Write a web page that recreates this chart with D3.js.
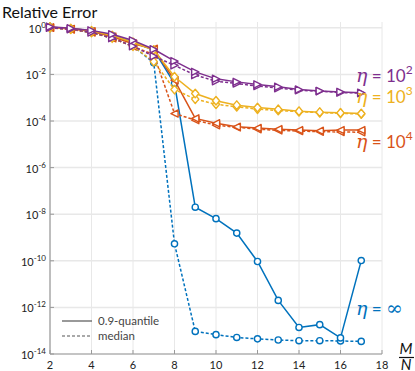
<!DOCTYPE html>
<html>
<head>
<meta charset="utf-8">
<script src="https://cdn.jsdelivr.net/npm/d3@7"></script>
<style>
  body { margin: 0; background: #fff; }
  svg { display: block; font-family: Lato, "Open Sans", sans-serif; }
</style>
</head>
<body>
<svg id="chart" width="415" height="371"></svg>
<script>
// M/N values
const mn = [2, 3, 4, 5, 6, 7, 8, 9, 10, 11, 12, 13, 14, 15, 16, 17];

// log10 of relative error
const infQ90 = [0.03, -0.03, -0.13, -0.33, -0.62, -0.95, -2.39, -7.7, -8.19, -8.81, -10.03, -11.7, -12.86, -12.74, -13.31, -9.99];
const infMed = [0.0, -0.06, -0.2, -0.44, -0.79, -1.5, -9.27, -13.03, -13.17, -13.29, -13.35, -13.4, -13.43, -13.43, -13.44, -13.46];
const e4Q90 = [0.02, -0.05, -0.15, -0.38, -0.68, -0.9, -2.25, -3.89, -4.1, -4.25, -4.3, -4.35, -4.39, -4.42, -4.39, -4.39];
const e4Med = [0.0, -0.07, -0.2, -0.45, -0.8, -1.15, -3.68, -3.96, -4.18, -4.27, -4.35, -4.4, -4.43, -4.46, -4.47, -4.48];
const e3Q90 = [0.03, -0.03, -0.13, -0.33, -0.62, -0.95, -2.1, -2.82, -3.13, -3.32, -3.42, -3.5, -3.58, -3.62, -3.65, -3.68];
const e3Med = [0.0, -0.06, -0.2, -0.44, -0.79, -1.45, -2.65, -3.06, -3.28, -3.39, -3.49, -3.55, -3.6, -3.64, -3.67, -3.7];
const e2Q90 = [0.05, -0.02, -0.11, -0.28, -0.54, -0.92, -1.43, -1.89, -2.19, -2.32, -2.43, -2.53, -2.65, -2.71, -2.75, -2.79];
const e2Med = [0.0, -0.06, -0.2, -0.44, -0.79, -1.22, -1.61, -2.03, -2.29, -2.39, -2.5, -2.59, -2.68, -2.72, -2.78, -2.8];

const xTicks = [2, 4, 6, 8, 10, 12, 14, 16, 18];
const yTickExp = [0, -2, -4, -6, -8, -10, -12, -14];

const series = [
  { name: 'inf', color: '#0072BD', marker: 'circle', q90: infQ90, med: infMed, label: '∞', ly: 315 },
  { name: 'e4', color: '#D95319', marker: 'left', q90: e4Q90, med: e4Med, label: '4', ly: 148 },
  { name: 'e3', color: '#EDB120', marker: 'diamond', q90: e3Q90, med: e3Med, label: '3', ly: 103 },
  { name: 'e2', color: '#7E2F8E', marker: 'right', q90: e2Q90, med: e2Med, label: '2', ly: 82 }
];

const svg = d3.select('#chart');
const plotLeft = 50, plotRight = 382, plotTop = 22, plotBottom = 354;

const xScale = d3.scaleLinear().domain([2, 18]).range([plotLeft, plotRight]);
const yScale = d3.scaleLog().domain([1e-14, Math.pow(10, 0.25)]).range([plotBottom, plotTop]);

// grid
svg.append('g').selectAll('line').data(xTicks).join('line')
  .attr('x1', d => xScale(d)).attr('x2', d => xScale(d))
  .attr('y1', plotTop).attr('y2', plotBottom)
  .attr('stroke', '#e8e8e8').attr('stroke-width', 1);
svg.append('g').selectAll('line').data(yTickExp).join('line')
  .attr('x1', plotLeft).attr('x2', plotRight)
  .attr('y1', d => yScale(Math.pow(10, d))).attr('y2', d => yScale(Math.pow(10, d)))
  .attr('stroke', '#e8e8e8').attr('stroke-width', 1.5);

// axes lines + inward ticks
svg.append('line').attr('x1', plotLeft).attr('x2', plotLeft).attr('y1', plotTop).attr('y2', plotBottom)
  .attr('stroke', '#999').attr('stroke-width', 1.2);
svg.append('line').attr('x1', plotLeft).attr('x2', plotRight).attr('y1', plotBottom).attr('y2', plotBottom)
  .attr('stroke', '#999').attr('stroke-width', 1.2);
svg.append('g').selectAll('line').data(xTicks).join('line')
  .attr('x1', d => xScale(d)).attr('x2', d => xScale(d))
  .attr('y1', plotBottom).attr('y2', plotBottom - 4)
  .attr('stroke', '#999');
svg.append('g').selectAll('line').data(yTickExp).join('line')
  .attr('x1', plotLeft).attr('x2', plotLeft + 4)
  .attr('y1', d => yScale(Math.pow(10, d))).attr('y2', d => yScale(Math.pow(10, d)))
  .attr('stroke', '#999');

// tick labels
svg.append('g').selectAll('text').data(xTicks).join('text')
  .attr('x', d => xScale(d)).attr('y', plotBottom + 15)
  .attr('text-anchor', 'middle').attr('font-size', 11).attr('fill', '#222')
  .text(d => d);

let yLabels = svg.append('g').selectAll('text').data(yTickExp).join('text')
  .attr('x', plotLeft - 4).attr('y', d => yScale(Math.pow(10, d)) + 5)
  .attr('text-anchor', 'end').attr('font-size', 11).attr('fill', '#222');
yLabels.append('tspan').text('10');
yLabels.append('tspan').attr('dy', -5).attr('font-size', 8).text(d => d === 0 ? '0' : '-' + (-d));

// title
svg.append('text').attr('x', 2).attr('y', 18).attr('font-size', 16).attr('fill', '#111')
  .text('Relative Error');

// M/N fraction
svg.append('text').attr('x', 406).attr('y', 354).attr('text-anchor', 'middle')
  .attr('font-size', 15).attr('font-style', 'italic').attr('fill', '#111').text('M');
svg.append('line').attr('x1', 399).attr('x2', 414).attr('y1', 357.5).attr('y2', 357.5)
  .attr('stroke', '#111').attr('stroke-width', 1.2);
svg.append('text').attr('x', 406).attr('y', 370).attr('text-anchor', 'middle')
  .attr('font-size', 15).attr('font-style', 'italic').attr('fill', '#111').text('N');

// markers
function markerPath(type) {
  const r = 3.6;
  if (type === 'circle') return null;
  if (type === 'diamond') return `M0,${-r * 1.2}L${r},0L0,${r * 1.2}L${-r},0Z`;
  if (type === 'left') return `M${-r},0L${r},${-r}L${r},${r}Z`;
  if (type === 'right') return `M${r},0L${-r},${-r}L${-r},${r}Z`;
}

const line = d3.line()
  .x((d, i) => xScale(mn[i]))
  .y(d => yScale(Math.pow(10, d)));

const plot = svg.append('g');

series.forEach(s => {
  [['med', '3,2'], ['q90', null]].forEach(([key, dash]) => {
    const vals = s[key];
    const g = plot.append('g').attr('class', s.name + '-' + key);
    g.append('path').datum(vals)
      .attr('d', line)
      .attr('fill', 'none')
      .attr('stroke', s.color)
      .attr('stroke-width', 1.5)
      .attr('stroke-dasharray', dash);
    const pts = g.selectAll('.pt').data(vals).join('g')
      .attr('transform', (d, i) => `translate(${xScale(mn[i])},${yScale(Math.pow(10, d))})`);
    if (s.marker === 'circle') {
      pts.append('circle').attr('r', 3.1)
        .attr('fill', '#fff').attr('stroke', s.color).attr('stroke-width', 1.4);
    } else {
      pts.append('path').attr('d', markerPath(s.marker))
        .attr('fill', '#fff').attr('stroke', s.color).attr('stroke-width', 1.4)
        .attr('stroke-linejoin', 'round');
    }
  });
});

// series labels
series.forEach(s => {
  const t = svg.append('text').attr('x', 356).attr('y', s.ly)
    .attr('fill', s.color).attr('font-size', 17);
  t.append('tspan').attr('font-family', '"DejaVu Serif", serif').attr('font-style', 'italic')
    .attr('font-size', 19).text('η');
  if (s.label === '∞') {
    t.append('tspan').text(' = ');
    t.append('tspan').attr('font-family', '"DejaVu Serif", serif').attr('font-size', 20).text('∞');
  } else {
    t.append('tspan').text(' = 10');
    t.append('tspan').attr('dy', -8).attr('font-size', 12).text(s.label);
  }
});

// legend
const legend = svg.append('g');
const legendItems = [['0.9-quantile', null, 321], ['median', '3,2', 336]];
legendItems.forEach(([txt, dash, y]) => {
  legend.append('line').attr('x1', 62).attr('x2', 92).attr('y1', y).attr('y2', y)
    .attr('stroke', '#555').attr('stroke-width', 1.2).attr('stroke-dasharray', dash);
  legend.append('text').attr('x', 98).attr('y', y + 4).attr('font-size', 11.5)
    .attr('fill', '#444').text(txt);
});
</script>
</body>
</html>
